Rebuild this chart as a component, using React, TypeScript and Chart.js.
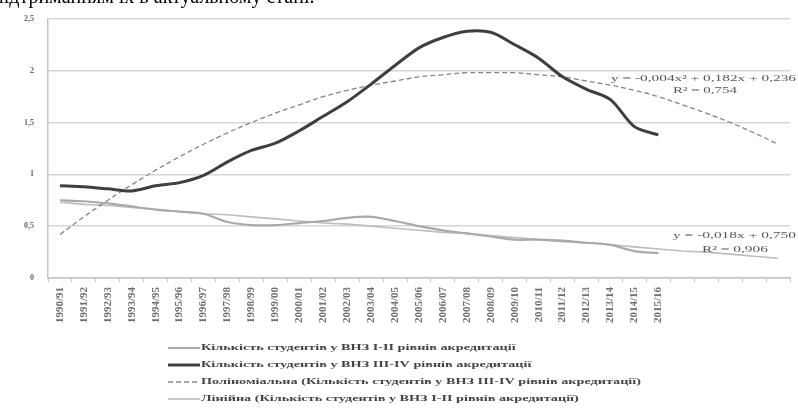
import React, { useEffect, useRef } from "react";
import { Chart, registerables } from "chart.js";

Chart.register(...registerables);

// ---------- data ----------
const periods = [
  "1990/91", "1991/92", "1992/93", "1993/94", "1994/95", "1995/96", "1996/97",
  "1997/98", "1998/99", "1999/00", "2000/01", "2001/02", "2002/03", "2003/04",
  "2004/05", "2005/06", "2006/07", "2007/08", "2008/09", "2009/10", "2010/11",
  "2011/12", "2012/13", "2013/14", "2014/15", "2015/16",
];
const forecastSlots = ["", "", "", "", ""];

const studentsLevelI_II = [
  0.75, 0.74, 0.72, 0.69, 0.66, 0.64, 0.62, 0.54, 0.51, 0.51, 0.53, 0.55, 0.58,
  0.59, 0.55, 0.5, 0.46, 0.43, 0.4, 0.37, 0.37, 0.36, 0.34, 0.32, 0.26, 0.24,
];
const studentsLevelIII_IV = [
  0.89, 0.88, 0.86, 0.84, 0.89, 0.92, 0.99, 1.12, 1.23, 1.3, 1.42, 1.56, 1.7,
  1.87, 2.05, 2.22, 2.32, 2.38, 2.37, 2.25, 2.12, 1.94, 1.82, 1.72, 1.46, 1.38,
];
const polyTrendIII_IV = [
  0.42, 0.59, 0.75, 0.9, 1.04, 1.17, 1.29, 1.4, 1.5, 1.59, 1.67, 1.75, 1.81,
  1.86, 1.9, 1.94, 1.96, 1.98, 1.98, 1.98, 1.96, 1.94, 1.9, 1.86, 1.81, 1.75,
  1.67, 1.59, 1.5, 1.4, 1.29,
];
const linearTrendI_II = [
  0.73, 0.71, 0.7, 0.68, 0.66, 0.64, 0.62, 0.61, 0.59, 0.57, 0.55, 0.53, 0.52,
  0.5, 0.48, 0.46, 0.44, 0.43, 0.41, 0.39, 0.37, 0.35, 0.34, 0.32, 0.3, 0.28,
  0.26, 0.25, 0.23, 0.21, 0.19,
];
const yMin = 0;
const yMax = 2.5;
const yStep = 0.5;

const seriesLabels = [
  "Кількість студентів у ВНЗ І-ІІ рівнів акредитації",
  "Кількість студентів у ВНЗ ІІІ-IV рівнів акредитації",
  "Поліноміальна (Кількість студентів у ВНЗ ІІІ-IV рівнів акредитації)",
  "Лінійна (Кількість студентів у ВНЗ І-ІІ рівнів акредитації)",
];
const polyEquation = ["y = -0,004x² + 0,182x + 0,236", "R² = 0,754"];
const linearEquation = ["y = -0,018x + 0,750", "R² = 0,906"];
const headingText = "підтриманням їх в актуальному стані.";

// ---------- drawing helpers ----------
function drawFitted(
  ctx: CanvasRenderingContext2D,
  text: string,
  x: number,
  y: number,
  width: number
) {
  const w = ctx.measureText(text).width;
  const sx = width / w;
  ctx.save();
  ctx.translate(x, y);
  ctx.scale(sx, 1);
  ctx.fillText(text, 0, 0);
  ctx.restore();
}

const overlayPlugin = {
  id: "overlay",
  afterDraw(chart: any) {
    const ctx: CanvasRenderingContext2D = chart.ctx;
    ctx.save();
    // legend
    const rows = [348, 365, 382, 399];
    ctx.font = "bold 9px 'Liberation Serif'";
    const ref = ctx.measureText(seriesLabels[2]).width;
    const sx = 440 / ref;
    chart.data.datasets.forEach((ds: any, i: number) => {
      const y = rows[i];
      ctx.save();
      ctx.strokeStyle = ds.borderColor;
      ctx.lineWidth = ds.borderWidth;
      ctx.setLineDash(ds.borderDash || []);
      ctx.beginPath();
      ctx.moveTo(168, y);
      ctx.lineTo(200, y);
      ctx.stroke();
      ctx.restore();
      ctx.fillStyle = "#444";
      ctx.textBaseline = "middle";
      ctx.font = "bold 9px 'Liberation Serif'";
      ctx.save();
      ctx.translate(201, y);
      ctx.scale(sx, 1);
      ctx.fillText(ds.label, 0, 0);
      ctx.restore();
    });
    // trendline equations
    ctx.fillStyle = "#555";
    ctx.textBaseline = "middle";
    ctx.font = "9px 'Liberation Serif'";
    drawFitted(ctx, polyEquation[0], 611, 79, 185);
    drawFitted(ctx, polyEquation[1], 673, 91, 64);
    drawFitted(ctx, linearEquation[0], 673, 236, 123);
    drawFitted(ctx, linearEquation[1], 702, 250, 66);
    ctx.restore();
  },
};

export default function App() {
  const canvasRef = useRef<HTMLCanvasElement | null>(null);

  useEffect(() => {
    if (!canvasRef.current) return;
    const labels = [...periods, ...forecastSlots];
    const chart = new Chart(canvasRef.current, {
      type: "line",
      data: {
        labels,
        datasets: [
          {
            label: seriesLabels[0],
            data: studentsLevelI_II,
            borderColor: "#a9a9a9",
            borderWidth: 2.2,
            pointRadius: 0,
            tension: 0.3,
            fill: false,
          },
          {
            label: seriesLabels[1],
            data: studentsLevelIII_IV,
            borderColor: "#3f3f3f",
            borderWidth: 3,
            pointRadius: 0,
            tension: 0.3,
            fill: false,
          },
          {
            label: seriesLabels[2],
            data: polyTrendIII_IV,
            borderColor: "#858585",
            borderWidth: 1.3,
            borderDash: [5, 3],
            pointRadius: 0,
            tension: 0.4,
            fill: false,
          },
          {
            label: seriesLabels[3],
            data: linearTrendI_II,
            borderColor: "#bdbdbd",
            borderWidth: 1.6,
            pointRadius: 0,
            tension: 0,
            fill: false,
          },
        ],
      },
      options: {
        responsive: false,
        animation: false,
        devicePixelRatio: 1,
        layout: { padding: { left: 0, top: 17, right: 8, bottom: 70 } },
        plugins: {
          legend: { display: false },
          tooltip: { enabled: false },
          title: { display: false },
        },
        scales: {
          x: {
            type: "category",
            offset: true,
            grid: {
              display: true,
              drawOnChartArea: false,
              drawTicks: true,
              tickLength: 4,
              offset: true,
              color: "#c4c4c4",
            },
            border: { color: "#c4c4c4", width: 1.5 },
            ticks: {
              autoSkip: false,
              maxRotation: 90,
              minRotation: 90,
              padding: 5,
              color: "#707070",
              font: { family: "'Liberation Serif'", size: 11, weight: "bold" },
            },
            afterFit: (s: any) => {
              s.height = 60;
            },
          },
          y: {
            min: yMin,
            max: yMax,
            grid: { color: "#d6d6d6", lineWidth: 1.5, drawTicks: false },
            border: { color: "#c4c4c4", width: 1.5 },
            ticks: {
              stepSize: yStep,
              padding: 14,
              color: "#666",
              font: { family: "'Liberation Serif'", size: 8, weight: "bold" },
              callback: (v: any) => String(v).replace(".", ","),
            },
            afterFit: (s: any) => {
              s.width = 48;
            },
          },
        },
      },
      plugins: [overlayPlugin],
    });
    return () => chart.destroy();
  }, []);

  return (
    <div
      style={{
        position: "fixed",
        left: 0,
        top: 0,
        width: 798,
        height: 408,
        background: "#fff",
        overflow: "hidden",
      }}
    >
      <canvas
        ref={canvasRef}
        width={798}
        height={408}
        style={{ display: "block", position: "absolute", left: 0, top: 0 }}
      />
      <div
        style={{
          position: "absolute",
          left: -7,
          top: -14,
          fontFamily: "'Liberation Serif', serif",
          fontSize: 20,
          lineHeight: "20px",
          color: "#000",
          whiteSpace: "nowrap",
        }}
      >
        {headingText}
      </div>
    </div>
  );
}
